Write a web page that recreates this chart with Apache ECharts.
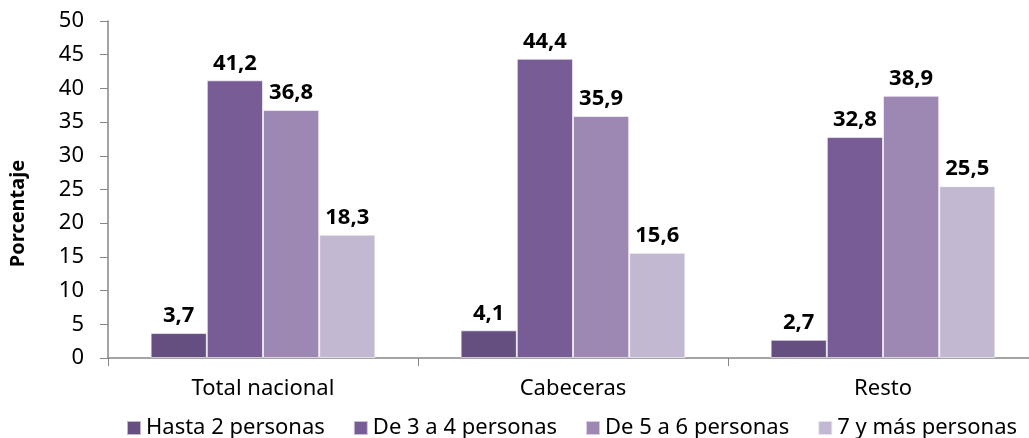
<!DOCTYPE html>
<html><head><meta charset="utf-8">
<script src="https://cdn.jsdelivr.net/npm/echarts@6/dist/echarts.min.js"></script>
<style>html,body{margin:0;padding:0;background:#fff}#c{width:1029px;height:438px}</style>
</head><body><div id="c"></div>
<script>
const categories = ['Total nacional', 'Cabeceras', 'Resto'];
const seriesNames = ['Hasta 2 personas', 'De 3 a 4 personas', 'De 5 a 6 personas', '7 y más personas'];
const hasta2 = [3.7, 4.1, 2.7];
const de3a4 = [41.2, 44.4, 32.8];
const de5a6 = [36.8, 35.9, 38.9];
const masDe7 = [18.3, 15.6, 25.5];
const colors = ['#654f80', '#775c96', '#9c88b3', '#c3b8d1'];
const FONT = 'Noto Sans';
const data = [hasta2, de3a4, de5a6, masDe7];
const chart = echarts.init(document.getElementById('c'));
chart.setOption({
  animation: false,
  textStyle: { fontFamily: FONT },
  grid: { left: 108, width: 930, top: 21, height: 337, outerBoundsMode: 'none', containLabel: false },
  legend: {
    bottom: -6, left: 121, itemWidth: 14, itemHeight: 14, itemGap: 28,
    textStyle: { fontSize: 22, color: '#000', fontFamily: FONT },
    data: seriesNames.map(n => ({ name: n, icon: 'rect' }))
  },
  xAxis: {
    type: 'category', data: categories,
    axisLine: { lineStyle: { color: '#868686', width: 1.5 } },
    axisTick: { show: true, length: 8, lineStyle: { color: '#868686' } },
    axisLabel: { fontSize: 22, color: '#000', margin: 20 }
  },
  yAxis: {
    type: 'value', min: 0, max: 50, interval: 5,
    name: 'Porcentaje', nameLocation: 'middle', nameGap: 80,
    nameTextStyle: { fontSize: 20, fontWeight: 'bold', color: '#000', padding: [0, 48, 0, 0] },
    axisLine: { show: true, lineStyle: { color: '#868686', width: 1.5 } },
    axisTick: { show: true, length: 8, lineStyle: { color: '#868686' } },
    axisLabel: { fontSize: 22, color: '#000', margin: 24 },
    splitLine: { show: false }
  },
  series: seriesNames.map((n, i) => ({
    name: n, type: 'bar', data: data[i], barGap: '0%', barCategoryGap: '27.5%',
    itemStyle: { color: colors[i], borderColor: 'rgba(255,255,255,0.6)', borderWidth: 1 },
    label: {
      show: true, position: 'top', fontSize: 22, fontWeight: 'bold', color: '#000', distance: 6,
      formatter: p => String(p.value).replace('.', ',')
    }
  }))
});
</script></body></html>
